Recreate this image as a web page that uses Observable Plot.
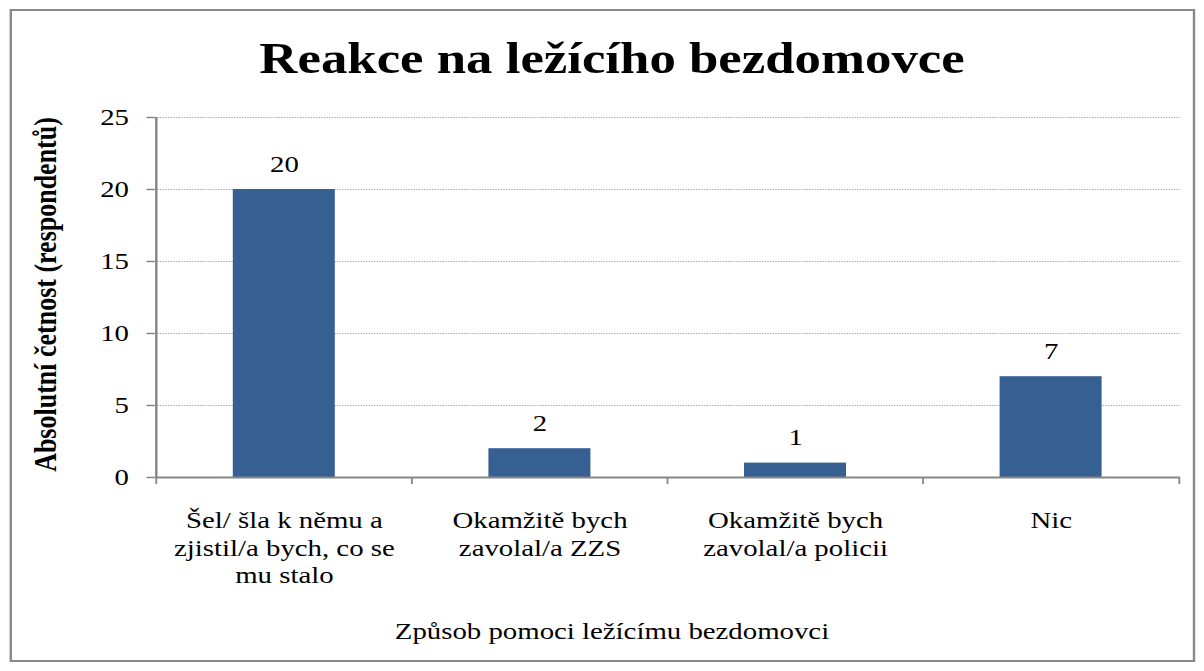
<!DOCTYPE html>
<html><head><meta charset="utf-8">
<script src="https://cdn.jsdelivr.net/npm/d3@7"></script>
<script src="https://cdn.jsdelivr.net/npm/@observablehq/plot@0.6"></script>
<style>
html,body{margin:0;padding:0;background:#fff;}
#wrap{position:relative;width:1003px;height:671px;transform:scaleX(1.2);transform-origin:0 0;font-family:"Liberation Serif","Times New Roman",serif;color:#000;}
#border{position:absolute;left:7.5px;top:9px;width:988px;height:653px;border:2px solid #898989;box-sizing:border-box;}
#title{position:absolute;left:0;top:37px;width:1020px;text-align:center;font-size:44px;font-weight:bold;line-height:44px;white-space:nowrap;}
#chart{position:absolute;left:0;top:100px;}
#caption{position:absolute;left:0;top:619px;width:1020px;text-align:center;font-size:24px;line-height:24px;white-space:nowrap;}
</style></head>
<body>
<div id="wrap">
  <div id="border"></div>
  <div id="title"></div>
  <div id="chart"></div>
  <div id="caption"></div>
</div>
<script>
const title = "Reakce na ležícího bezdomovce";
const yTitle = "Absolutní četnost (respondentů)";
const xTitle = "Způsob pomoci ležícímu bezdomovci";
const categories = [
  "Šel/ šla k němu a zjistil/a bych, co se mu stalo",
  "Okamžitě bych zavolal/a ZZS",
  "Okamžitě bych zavolal/a policii",
  "Nic"
];
const categoryLines = [
  "Šel/ šla k němu a\nzjistil/a bych, co se\nmu stalo",
  "Okamžitě bych\nzavolal/a ZZS",
  "Okamžitě bych\nzavolal/a policii",
  "Nic"
];
const counts = [20, 2, 1, 7];
const yTicks = [0, 5, 10, 15, 20, 25];

const data = categories.map((c, i) => ({category: c, count: counts[i]}));

const W = 1003, H = 500, ML = 129, MR = 20, MT = 17, MB = 123;
const step = (W - ML - MR) / categories.length;
const axisColor = "#868686";
const font = '"Liberation Serif", "Times New Roman", serif';

document.getElementById("title").textContent = title;
document.getElementById("caption").textContent = xTitle;

const chart = Plot.plot({
  width: W, height: H,
  marginLeft: ML, marginRight: MR, marginTop: MT, marginBottom: MB,
  style: {fontFamily: font, color: "#000", background: "transparent", overflow: "visible"},
  x: {type: "band", domain: categories, paddingInner: 0.6, paddingOuter: 0.3, axis: null},
  y: {domain: [yTicks[0], yTicks[yTicks.length - 1]], axis: null},
  marks: [
    Plot.gridY(yTicks.filter(d => d > 0), {stroke: "#a8a8a8", strokeOpacity: 1, strokeDasharray: "1.2,1"}),
    Plot.barY(data, {x: "category", y: "count", fill: "#376092"}),
    Plot.ruleY([0], {stroke: axisColor, strokeWidth: 2}),
    Plot.ruleX([categories[0]], {x: d => d, y1: yTicks[0], y2: yTicks[yTicks.length - 1], dx: -step / 2, stroke: axisColor, strokeWidth: 2}),
    Plot.ruleX(categories, {x: d => d, y1: 0, y2: 0, insetBottom: -7, dx: -step / 2, stroke: axisColor, strokeWidth: 1.5}),
    Plot.ruleX([categories[categories.length - 1]], {x: d => d, y1: 0, y2: 0, insetBottom: -7, dx: step / 2, stroke: axisColor, strokeWidth: 1.5}),
    Plot.axisY(yTicks, {tickSize: 7, tickPadding: 15, fontSize: 24, stroke: axisColor, strokeWidth: 1.5, label: null}),
    Plot.axisX({tickSize: 0, tickPadding: 31, fontSize: 24, lineHeight: 1.15, tickFormat: d => categoryLines[categories.indexOf(d)], label: null}),
    Plot.text(data, {x: "category", y: "count", text: d => String(d.count), dy: -18, lineAnchor: "bottom", fontSize: 24}),
    Plot.text([yTitle], {frameAnchor: "left", text: d => d, rotate: -90, dx: -91, dy: -3, textAnchor: "middle", fontSize: 26, fontWeight: "bold", lineAnchor: "middle"})
  ]
});
document.getElementById("chart").appendChild(chart);
</script>
</body></html>
